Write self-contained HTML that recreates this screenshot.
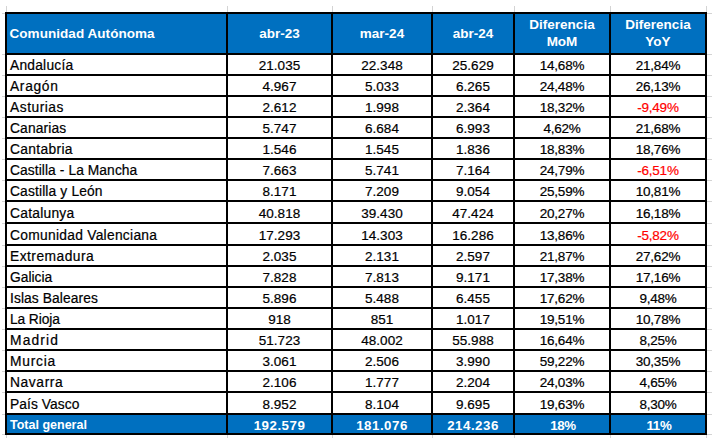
<!DOCTYPE html><html><head><meta charset="utf-8"><style>
html,body{margin:0;padding:0;background:#fff;}
#c{position:relative;width:716px;height:441px;overflow:hidden;background:#fff;font-family:"Liberation Sans",sans-serif;}
.l{position:absolute;background:#000;}
.g{position:absolute;background:#d4d4d4;}
.b{position:absolute;background:#0070c0;}
.t{position:absolute;white-space:pre;line-height:1;}
.n{font-size:13.5px;color:#000;letter-spacing:0px;}
.nm{font-size:13.8px;color:#000;letter-spacing:0.35px;}
.h{font-size:13.5px;font-weight:bold;color:#fff;}
.tt{font-size:12.5px;font-weight:bold;color:#fff;letter-spacing:0px;}
.tn{font-size:13.3px;font-weight:bold;color:#fff;letter-spacing:0.5px;}
.red{color:#ff0000;}
.pc{letter-spacing:-0.25px;}
.n,.nm{-webkit-text-stroke:0.2px currentColor;}
.h,.tt,.tn{-webkit-text-stroke:0px #fff;}
.ctr{transform:translateX(-50%);}
</style></head><body><div id="c">
<div class="g" style="left:6px;top:6px;width:1px;height:6px"></div>
<div class="g" style="left:6px;top:435px;width:1px;height:3px"></div>
<div class="g" style="left:227px;top:6px;width:1px;height:6px"></div>
<div class="g" style="left:227px;top:435px;width:1px;height:3px"></div>
<div class="g" style="left:332px;top:6px;width:1px;height:6px"></div>
<div class="g" style="left:332px;top:435px;width:1px;height:3px"></div>
<div class="g" style="left:432px;top:6px;width:1px;height:6px"></div>
<div class="g" style="left:432px;top:435px;width:1px;height:3px"></div>
<div class="g" style="left:514px;top:6px;width:1px;height:6px"></div>
<div class="g" style="left:514px;top:435px;width:1px;height:3px"></div>
<div class="g" style="left:610px;top:6px;width:1px;height:6px"></div>
<div class="g" style="left:610px;top:435px;width:1px;height:3px"></div>
<div class="g" style="left:706px;top:6px;width:1px;height:6px"></div>
<div class="g" style="left:706px;top:435px;width:1px;height:3px"></div>
<div class="g" style="left:2px;top:13px;width:3px;height:1px"></div>
<div class="g" style="left:707px;top:13px;width:5px;height:1px"></div>
<div class="g" style="left:2px;top:54px;width:3px;height:1px"></div>
<div class="g" style="left:707px;top:54px;width:5px;height:1px"></div>
<div class="g" style="left:2px;top:75px;width:3px;height:1px"></div>
<div class="g" style="left:707px;top:75px;width:5px;height:1px"></div>
<div class="g" style="left:2px;top:96px;width:3px;height:1px"></div>
<div class="g" style="left:707px;top:96px;width:5px;height:1px"></div>
<div class="g" style="left:2px;top:117px;width:3px;height:1px"></div>
<div class="g" style="left:707px;top:117px;width:5px;height:1px"></div>
<div class="g" style="left:2px;top:138px;width:3px;height:1px"></div>
<div class="g" style="left:707px;top:138px;width:5px;height:1px"></div>
<div class="g" style="left:2px;top:159px;width:3px;height:1px"></div>
<div class="g" style="left:707px;top:159px;width:5px;height:1px"></div>
<div class="g" style="left:2px;top:180px;width:3px;height:1px"></div>
<div class="g" style="left:707px;top:180px;width:5px;height:1px"></div>
<div class="g" style="left:2px;top:201px;width:3px;height:1px"></div>
<div class="g" style="left:707px;top:201px;width:5px;height:1px"></div>
<div class="g" style="left:2px;top:223px;width:3px;height:1px"></div>
<div class="g" style="left:707px;top:223px;width:5px;height:1px"></div>
<div class="g" style="left:2px;top:245px;width:3px;height:1px"></div>
<div class="g" style="left:707px;top:245px;width:5px;height:1px"></div>
<div class="g" style="left:2px;top:266px;width:3px;height:1px"></div>
<div class="g" style="left:707px;top:266px;width:5px;height:1px"></div>
<div class="g" style="left:2px;top:287px;width:3px;height:1px"></div>
<div class="g" style="left:707px;top:287px;width:5px;height:1px"></div>
<div class="g" style="left:2px;top:308px;width:3px;height:1px"></div>
<div class="g" style="left:707px;top:308px;width:5px;height:1px"></div>
<div class="g" style="left:2px;top:329px;width:3px;height:1px"></div>
<div class="g" style="left:707px;top:329px;width:5px;height:1px"></div>
<div class="g" style="left:2px;top:350px;width:3px;height:1px"></div>
<div class="g" style="left:707px;top:350px;width:5px;height:1px"></div>
<div class="g" style="left:2px;top:371px;width:3px;height:1px"></div>
<div class="g" style="left:707px;top:371px;width:5px;height:1px"></div>
<div class="g" style="left:2px;top:392px;width:3px;height:1px"></div>
<div class="g" style="left:707px;top:392px;width:5px;height:1px"></div>
<div class="g" style="left:2px;top:414px;width:3px;height:1px"></div>
<div class="g" style="left:707px;top:414px;width:5px;height:1px"></div>
<div class="g" style="left:2px;top:434px;width:3px;height:1px"></div>
<div class="g" style="left:707px;top:434px;width:5px;height:1px"></div>
<div class="b" style="left:5px;top:12px;width:702px;height:41px"></div>
<div class="b" style="left:5px;top:413px;width:702px;height:20px"></div>
<div class="l" style="left:5px;top:12px;width:702px;height:2px"></div>
<div class="l" style="left:5px;top:53px;width:702px;height:2px"></div>
<div class="l" style="left:5px;top:74px;width:702px;height:2px"></div>
<div class="l" style="left:5px;top:95px;width:702px;height:2px"></div>
<div class="l" style="left:5px;top:116px;width:702px;height:2px"></div>
<div class="l" style="left:5px;top:137px;width:702px;height:2px"></div>
<div class="l" style="left:5px;top:158px;width:702px;height:2px"></div>
<div class="l" style="left:5px;top:179px;width:702px;height:2px"></div>
<div class="l" style="left:5px;top:200px;width:702px;height:2px"></div>
<div class="l" style="left:5px;top:222px;width:702px;height:2px"></div>
<div class="l" style="left:5px;top:244px;width:702px;height:2px"></div>
<div class="l" style="left:5px;top:265px;width:702px;height:2px"></div>
<div class="l" style="left:5px;top:286px;width:702px;height:2px"></div>
<div class="l" style="left:5px;top:307px;width:702px;height:2px"></div>
<div class="l" style="left:5px;top:328px;width:702px;height:2px"></div>
<div class="l" style="left:5px;top:349px;width:702px;height:2px"></div>
<div class="l" style="left:5px;top:370px;width:702px;height:2px"></div>
<div class="l" style="left:5px;top:391px;width:702px;height:2px"></div>
<div class="l" style="left:5px;top:413px;width:702px;height:2px"></div>
<div class="l" style="left:5px;top:433px;width:702px;height:2px"></div>
<div class="l" style="left:5px;top:12px;width:2px;height:423px"></div>
<div class="l" style="left:226px;top:12px;width:2px;height:423px"></div>
<div class="l" style="left:331px;top:12px;width:2px;height:423px"></div>
<div class="l" style="left:431px;top:12px;width:2px;height:423px"></div>
<div class="l" style="left:513px;top:12px;width:2px;height:423px"></div>
<div class="l" style="left:609px;top:12px;width:2px;height:423px"></div>
<div class="l" style="left:705px;top:12px;width:2px;height:423px"></div>
<div class="t h" style="left:9.5px;top:26.5px;letter-spacing:0.05px">Comunidad Autónoma</div>
<div class="t h ctr" style="left:279.5px;top:26.5px">abr-23</div>
<div class="t h ctr" style="left:382.0px;top:26.5px">mar-24</div>
<div class="t h ctr" style="left:473.0px;top:26.5px">abr-24</div>
<div class="t h ctr" style="left:562.0px;top:17.5px">Diferencia</div>
<div class="t h ctr" style="left:562.0px;top:35px">MoM</div>
<div class="t h ctr" style="left:658.0px;top:17.5px">Diferencia</div>
<div class="t h ctr" style="left:658.0px;top:35px">YoY</div>
<div class="t nm" style="left:10px;top:59px;letter-spacing:0.218px">Andalucía</div>
<div class="t n ctr" style="left:279.5px;top:59px">21.035</div>
<div class="t n ctr" style="left:382.0px;top:59px">22.348</div>
<div class="t n ctr" style="left:473.0px;top:59px">25.629</div>
<div class="t n ctr pc" style="left:562.0px;top:59px">14,68%</div>
<div class="t n ctr pc" style="left:658.0px;top:59px">21,84%</div>
<div class="t nm" style="left:10px;top:80px;letter-spacing:0.666px">Aragón</div>
<div class="t n ctr" style="left:279.5px;top:80px">4.967</div>
<div class="t n ctr" style="left:382.0px;top:80px">5.033</div>
<div class="t n ctr" style="left:473.0px;top:80px">6.265</div>
<div class="t n ctr pc" style="left:562.0px;top:80px">24,48%</div>
<div class="t n ctr pc" style="left:658.0px;top:80px">26,13%</div>
<div class="t nm" style="left:10px;top:101px;letter-spacing:0.514px">Asturias</div>
<div class="t n ctr" style="left:279.5px;top:101px">2.612</div>
<div class="t n ctr" style="left:382.0px;top:101px">1.998</div>
<div class="t n ctr" style="left:473.0px;top:101px">2.364</div>
<div class="t n ctr pc" style="left:562.0px;top:101px">18,32%</div>
<div class="t n ctr red pc" style="left:658.0px;top:101px">-9,49%</div>
<div class="t nm" style="left:10px;top:122px;letter-spacing:0.136px">Canarias</div>
<div class="t n ctr" style="left:279.5px;top:122px">5.747</div>
<div class="t n ctr" style="left:382.0px;top:122px">6.684</div>
<div class="t n ctr" style="left:473.0px;top:122px">6.993</div>
<div class="t n ctr pc" style="left:562.0px;top:122px">4,62%</div>
<div class="t n ctr pc" style="left:658.0px;top:122px">21,68%</div>
<div class="t nm" style="left:10px;top:143px;letter-spacing:0.329px">Cantabria</div>
<div class="t n ctr" style="left:279.5px;top:143px">1.546</div>
<div class="t n ctr" style="left:382.0px;top:143px">1.545</div>
<div class="t n ctr" style="left:473.0px;top:143px">1.836</div>
<div class="t n ctr pc" style="left:562.0px;top:143px">18,83%</div>
<div class="t n ctr pc" style="left:658.0px;top:143px">18,76%</div>
<div class="t nm" style="left:10px;top:164px;letter-spacing:0.080px">Castilla - La Mancha</div>
<div class="t n ctr" style="left:279.5px;top:164px">7.663</div>
<div class="t n ctr" style="left:382.0px;top:164px">5.741</div>
<div class="t n ctr" style="left:473.0px;top:164px">7.164</div>
<div class="t n ctr pc" style="left:562.0px;top:164px">24,79%</div>
<div class="t n ctr red pc" style="left:658.0px;top:164px">-6,51%</div>
<div class="t nm" style="left:10px;top:185px;letter-spacing:0.143px">Castilla y León</div>
<div class="t n ctr" style="left:279.5px;top:185px">8.171</div>
<div class="t n ctr" style="left:382.0px;top:185px">7.209</div>
<div class="t n ctr" style="left:473.0px;top:185px">9.054</div>
<div class="t n ctr pc" style="left:562.0px;top:185px">25,59%</div>
<div class="t n ctr pc" style="left:658.0px;top:185px">10,81%</div>
<div class="t nm" style="left:10px;top:207px;letter-spacing:0.260px">Catalunya</div>
<div class="t n ctr" style="left:279.5px;top:207px">40.818</div>
<div class="t n ctr" style="left:382.0px;top:207px">39.430</div>
<div class="t n ctr" style="left:473.0px;top:207px">47.424</div>
<div class="t n ctr pc" style="left:562.0px;top:207px">20,27%</div>
<div class="t n ctr pc" style="left:658.0px;top:207px">16,18%</div>
<div class="t nm" style="left:10px;top:229px;letter-spacing:0.280px">Comunidad Valenciana</div>
<div class="t n ctr" style="left:279.5px;top:229px">17.293</div>
<div class="t n ctr" style="left:382.0px;top:229px">14.303</div>
<div class="t n ctr" style="left:473.0px;top:229px">16.286</div>
<div class="t n ctr pc" style="left:562.0px;top:229px">13,86%</div>
<div class="t n ctr red pc" style="left:658.0px;top:229px">-5,82%</div>
<div class="t nm" style="left:10px;top:250px;letter-spacing:0.478px">Extremadura</div>
<div class="t n ctr" style="left:279.5px;top:250px">2.035</div>
<div class="t n ctr" style="left:382.0px;top:250px">2.131</div>
<div class="t n ctr" style="left:473.0px;top:250px">2.597</div>
<div class="t n ctr pc" style="left:562.0px;top:250px">21,87%</div>
<div class="t n ctr pc" style="left:658.0px;top:250px">27,62%</div>
<div class="t nm" style="left:10px;top:271px;letter-spacing:-0.006px">Galicia</div>
<div class="t n ctr" style="left:279.5px;top:271px">7.828</div>
<div class="t n ctr" style="left:382.0px;top:271px">7.813</div>
<div class="t n ctr" style="left:473.0px;top:271px">9.171</div>
<div class="t n ctr pc" style="left:562.0px;top:271px">17,38%</div>
<div class="t n ctr pc" style="left:658.0px;top:271px">17,16%</div>
<div class="t nm" style="left:10px;top:292px;letter-spacing:0.093px">Islas Baleares</div>
<div class="t n ctr" style="left:279.5px;top:292px">5.896</div>
<div class="t n ctr" style="left:382.0px;top:292px">5.488</div>
<div class="t n ctr" style="left:473.0px;top:292px">6.455</div>
<div class="t n ctr pc" style="left:562.0px;top:292px">17,62%</div>
<div class="t n ctr pc" style="left:658.0px;top:292px">9,48%</div>
<div class="t nm" style="left:10px;top:313px;letter-spacing:-0.111px">La Rioja</div>
<div class="t n ctr" style="left:279.5px;top:313px">918</div>
<div class="t n ctr" style="left:382.0px;top:313px">851</div>
<div class="t n ctr" style="left:473.0px;top:313px">1.017</div>
<div class="t n ctr pc" style="left:562.0px;top:313px">19,51%</div>
<div class="t n ctr pc" style="left:658.0px;top:313px">10,78%</div>
<div class="t nm" style="left:10px;top:334px;letter-spacing:1.167px">Madrid</div>
<div class="t n ctr" style="left:279.5px;top:334px">51.723</div>
<div class="t n ctr" style="left:382.0px;top:334px">48.002</div>
<div class="t n ctr" style="left:473.0px;top:334px">55.988</div>
<div class="t n ctr pc" style="left:562.0px;top:334px">16,64%</div>
<div class="t n ctr pc" style="left:658.0px;top:334px">8,25%</div>
<div class="t nm" style="left:10px;top:355px;letter-spacing:0.767px">Murcia</div>
<div class="t n ctr" style="left:279.5px;top:355px">3.061</div>
<div class="t n ctr" style="left:382.0px;top:355px">2.506</div>
<div class="t n ctr" style="left:473.0px;top:355px">3.990</div>
<div class="t n ctr pc" style="left:562.0px;top:355px">59,22%</div>
<div class="t n ctr pc" style="left:658.0px;top:355px">30,35%</div>
<div class="t nm" style="left:10px;top:376px;letter-spacing:0.608px">Navarra</div>
<div class="t n ctr" style="left:279.5px;top:376px">2.106</div>
<div class="t n ctr" style="left:382.0px;top:376px">1.777</div>
<div class="t n ctr" style="left:473.0px;top:376px">2.204</div>
<div class="t n ctr pc" style="left:562.0px;top:376px">24,03%</div>
<div class="t n ctr pc" style="left:658.0px;top:376px">4,65%</div>
<div class="t nm" style="left:10px;top:398px;letter-spacing:0.060px">País Vasco</div>
<div class="t n ctr" style="left:279.5px;top:398px">8.952</div>
<div class="t n ctr" style="left:382.0px;top:398px">8.104</div>
<div class="t n ctr" style="left:473.0px;top:398px">9.695</div>
<div class="t n ctr pc" style="left:562.0px;top:398px">19,63%</div>
<div class="t n ctr pc" style="left:658.0px;top:398px">8,30%</div>
<div class="t tt" style="left:10px;top:418.5px">Total general</div>
<div class="t tn ctr" style="left:279.5px;top:418.5px">192.579</div>
<div class="t tn ctr" style="left:382.0px;top:418.5px">181.076</div>
<div class="t tn ctr" style="left:473.0px;top:418.5px">214.236</div>
<div class="t tn ctr" style="left:563.0px;top:418.5px;letter-spacing:-0.3px">18%</div>
<div class="t tn ctr" style="left:659.0px;top:418.5px;letter-spacing:-0.3px">11%</div>
</div></body></html>
